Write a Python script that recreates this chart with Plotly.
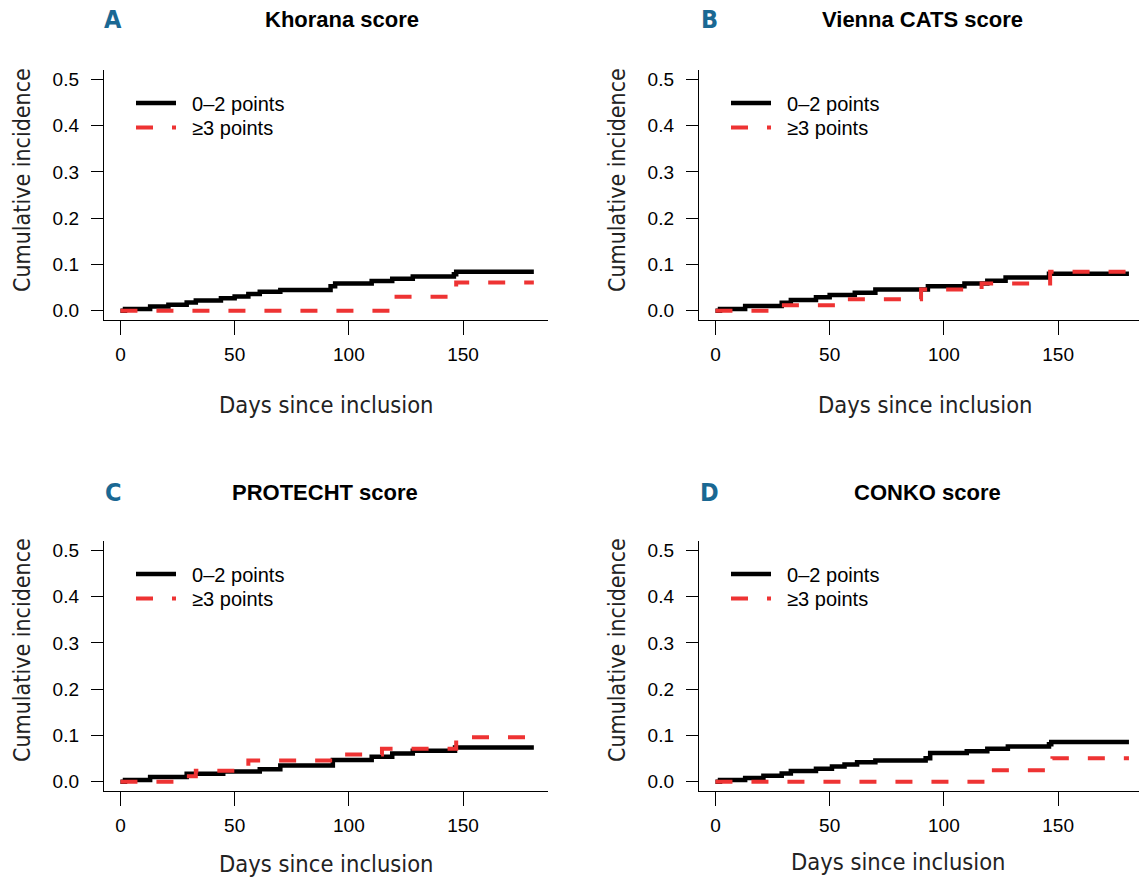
import plotly.graph_objects as go

# ---------------- data ----------------
x_ticks = [0, 50, 100, 150]
x_tick_labels = ["0", "50", "100", "150"]
y_ticks = [0.0, 0.1, 0.2, 0.3, 0.4, 0.5]
y_tick_labels = ["0.0", "0.1", "0.2", "0.3", "0.4", "0.5"]

panel_letters = ["A", "B", "C", "D"]
panel_titles = ["Khorana score", "Vienna CATS score", "PROTECHT score", "CONKO score"]
group_names = ["0\u20132 points", "\u22653 points"]

# A - Khorana
khorana_low_days = [0, 2, 13, 21, 29, 33, 44, 50, 56, 61, 70, 92, 94, 110, 119, 128, 146, 147, 181]
khorana_low_ci = [0, 0.004, 0.009, 0.013, 0.018, 0.022, 0.027, 0.031, 0.036, 0.041, 0.045,
                  0.053, 0.059, 0.064, 0.069, 0.074, 0.079, 0.084, 0.084]
khorana_high_days = [0, 118, 147, 181]
khorana_high_ci = [0, 0.030, 0.061, 0.061]

# B - Vienna CATS
vienna_low_days = [0, 2, 13, 29, 33, 44, 50, 61, 70, 93, 109, 119, 127, 146, 181]
vienna_low_ci = [0, 0.004, 0.010, 0.017, 0.023, 0.029, 0.034, 0.039, 0.046, 0.053,
                 0.059, 0.065, 0.072, 0.080, 0.080]
vienna_high_days = [0, 27, 54, 90, 116.5, 146.5, 181]
vienna_high_ci = [0, 0.012, 0.025, 0.046, 0.059, 0.084, 0.084]

# C - PROTECHT
protecht_low_days = [0, 2, 13, 29, 45, 61, 70, 93, 110, 119, 128, 146.5, 181]
protecht_low_ci = [0, 0.004, 0.010, 0.017, 0.022, 0.027, 0.035, 0.047, 0.054, 0.061,
                   0.067, 0.074, 0.074]
protecht_high_days = [0, 27, 33, 56, 93, 114.5, 147, 181]
protecht_high_ci = [0, 0.012, 0.024, 0.046, 0.059, 0.071, 0.096, 0.096]

# D - CONKO
conko_low_days = [0, 2, 13, 21, 29, 33, 44, 51, 56.5, 62, 70, 92, 94, 110, 119, 128, 146, 147, 181]
conko_low_ci = [0, 0.004, 0.008, 0.013, 0.018, 0.023, 0.028, 0.033, 0.037, 0.042, 0.046,
                0.051, 0.062, 0.066, 0.071, 0.076, 0.081, 0.086, 0.086]
conko_high_days = [0, 118, 147.5, 181]
conko_high_ci = [0, 0.025, 0.051, 0.051]

low_series = [(khorana_low_days, khorana_low_ci), (vienna_low_days, vienna_low_ci),
              (protecht_low_days, protecht_low_ci), (conko_low_days, conko_low_ci)]
high_series = [(khorana_high_days, khorana_high_ci), (vienna_high_days, vienna_high_ci),
               (protecht_high_days, protecht_high_ci), (conko_high_days, conko_high_ci)]

# ---------------- layout geometry ----------------
W, H = 1139, 880
BLACK = "#000000"
RED = "#ee3333"
TEAL = "#1a6893"
SANS = "Liberation Sans, Arial, Helvetica, sans-serif"
NARROW = "Liberation Sans Narrow, DejaVu Sans Condensed, Roboto, sans-serif"
PAD = "\u00a0\u00a0"

# plot areas in pixels (left, right, top, bottom)
boxes = [(104, 548, 70, 320), (699, 1139, 70, 320),
         (104, 548, 541, 791), (699, 1139, 541, 791)]
x_ranges = [[-7.2, 187.2], [-7.2, 185.4], [-7.2, 187.2], [-7.2, 185.4]]

fig = go.Figure()
layout = dict(width=W, height=H, margin=dict(l=0, r=0, t=0, b=0, autoexpand=False),
              paper_bgcolor="white", plot_bgcolor="white", showlegend=True)
annotations = []

title_pos = [(342, 20), (922, 20), (325, 492), (927, 492)]
letter_pos = [(113, 20), (709, 20), (113, 492), (709, 492)]
ytitle_pos = [(22, 180), (617, 180), (22, 650), (617, 650)]
xtitle_pos = [(326, 405), (925, 405), (326, 864), (898, 862)]

for i in range(4):
    n = "" if i == 0 else str(i + 1)
    l, r, t, b = boxes[i]
    xa = dict(domain=[l / W, r / W], range=x_ranges[i], anchor="y" + n,
              tickmode="array", tickvals=x_ticks, ticktext=x_tick_labels,
              showline=True, linecolor=BLACK, linewidth=1.4, ticks="outside",
              ticklen=14, tickwidth=1.4, tickcolor=BLACK, showgrid=False, zeroline=False,
              automargin=False, ticklabelstandoff=3,
              tickfont=dict(family=SANS, size=19, color=BLACK))
    ya = dict(domain=[1 - b / H, 1 - t / H], range=[-0.02, 0.52], anchor="x" + n,
              tickmode="array", tickvals=y_ticks, ticktext=y_tick_labels,
              showline=True, linecolor=BLACK, linewidth=1.4, ticks="outside",
              ticklen=12, tickwidth=1.4, tickcolor=BLACK, showgrid=False, zeroline=False,
              automargin=False, ticklabelstandoff=8,
              tickfont=dict(family=SANS, size=19, color=BLACK))
    layout["xaxis" + n] = xa
    layout["yaxis" + n] = ya

    leg_low = "legend" if i == 0 else "legend" + str(2 * i + 1)
    leg_high = "legend" + str(2 * i + 2)
    fig.add_trace(go.Scatter(x=low_series[i][0], y=low_series[i][1], mode="lines",
                             line=dict(color=BLACK, width=4.5, shape="hv"),
                             name=PAD + group_names[0], legend=leg_low,
                             xaxis="x" + n, yaxis="y" + n))
    fig.add_trace(go.Scatter(x=high_series[i][0], y=high_series[i][1], mode="lines",
                             line=dict(color=RED, width=4, shape="hv", dash="17px,19px"),
                             name=PAD + group_names[1], legend=leg_high,
                             xaxis="x" + n, yaxis="y" + n))
    for k, leg in enumerate([leg_low, leg_high]):
        layout[leg] = dict(x=(l + 27) / W, y=1 - (t + 33 + 24.5 * k) / H,
                           xanchor="left", yanchor="middle",
                           bgcolor="rgba(0,0,0,0)", borderwidth=0, itemwidth=40,
                           font=dict(family=SANS, size=20, color=BLACK))

    annotations.append(dict(text="<b>" + panel_titles[i] + "</b>", xref="paper", yref="paper",
                            x=title_pos[i][0] / W, y=1 - title_pos[i][1] / H,
                            xanchor="center", yanchor="middle", showarrow=False,
                            font=dict(family=SANS, size=22, color=BLACK)))
    annotations.append(dict(text="<b>" + panel_letters[i] + "</b>", xref="paper", yref="paper",
                            x=letter_pos[i][0] / W, y=1 - letter_pos[i][1] / H,
                            xanchor="center", yanchor="middle", showarrow=False,
                            font=dict(family=NARROW, size=25, color=TEAL)))
    annotations.append(dict(text="Cumulative incidence", xref="paper", yref="paper",
                            x=ytitle_pos[i][0] / W, y=1 - ytitle_pos[i][1] / H,
                            xanchor="center", yanchor="middle", showarrow=False, textangle=-90,
                            font=dict(family=NARROW, size=23, color="#222222")))
    annotations.append(dict(text="Days since inclusion", xref="paper", yref="paper",
                            x=xtitle_pos[i][0] / W, y=1 - xtitle_pos[i][1] / H,
                            xanchor="center", yanchor="middle", showarrow=False,
                            font=dict(family=NARROW, size=23.5, color="#222222")))

layout["annotations"] = annotations
fig.update_layout(**layout)
fig.write_html("out.html", config={"displayModeBar": False},
               post_script="document.body.style.margin='0';document.body.style.overflow='hidden';")
